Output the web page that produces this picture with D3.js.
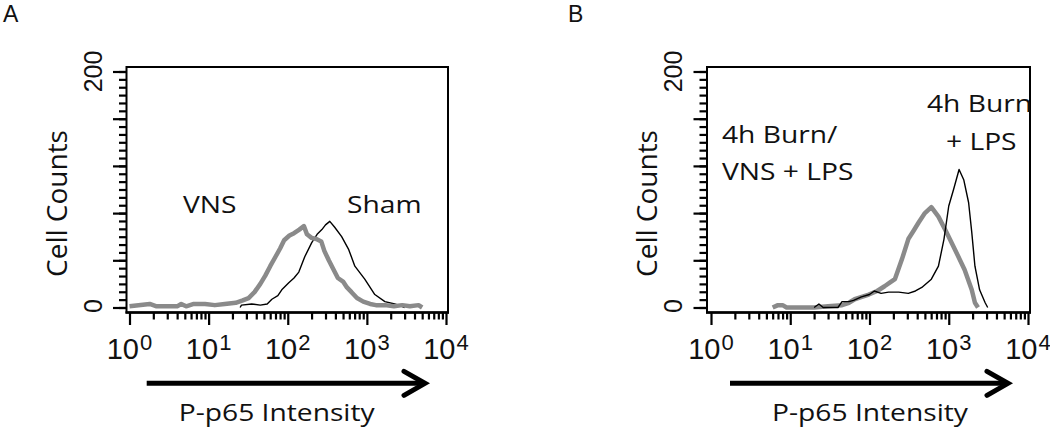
<!DOCTYPE html>
<html><head><meta charset="utf-8">
<script src="https://cdn.jsdelivr.net/npm/d3@7"></script>
<style>body{margin:0;background:#fff}svg{display:block}</style>
</head><body>
<svg id="c" width="1050" height="432"></svg>
<script>
// ---------------- data ----------------
const decades = [1, 10, 100, 1000, 10000];
const decadeExponents = ["0", "1", "2", "3", "4"];
const yLabelValues = [0, 200];
const yMajorTicks = [0, 40, 80, 120, 160, 200];

// Panel A – VNS (grey) and Sham (black)
const vnsIntensityA = [1, 1.8, 2.2, 4, 4.5, 5.2, 6.5, 9, 12, 16, 22, 27, 32, 38, 45, 52, 60, 70, 80, 90, 105, 120, 140, 160, 175, 200, 230, 265, 290, 330, 380, 430, 500, 560, 640, 750, 900, 1100, 1300, 1700, 2200, 2800, 3500, 4500, 5000];
const vnsCountsA    = [1, 3, 1, 1, 3, 1, 3, 3, 2, 3, 4, 6, 8, 13, 20, 27, 35, 43, 50, 57, 61, 63, 66, 69, 62, 59, 58, 56, 48, 40, 32, 25, 22, 17, 13, 8, 5, 3, 2, 2, 1, 2, 1, 2, 0];
const shamIntensityA = [25, 26, 35, 45, 55, 63, 75, 84, 103, 120, 138, 164, 201, 235, 270, 300, 340, 392, 480, 590, 705, 940, 1260, 1690, 2250, 2770, 3000];
const shamCountsA    = [0, 2, 3, 2, 3, 7, 10, 15, 21, 25, 30, 43, 55, 62, 66, 70, 73, 68, 60, 49, 35, 24, 11, 5, 3, 1, 0];

// Panel B – 4h Burn/VNS + LPS (grey) and 4h Burn + LPS (black)
const vnsIntensityB = [6, 7, 8, 9, 20, 30, 45, 55, 65, 80, 98, 125, 155, 180, 209, 257, 309, 360, 417, 500, 603, 741, 933, 1200, 1585, 1950, 2140, 2340];
const vnsCountsB    = [0, 2, 2, 0, 0, 1, 2, 4, 7, 9, 11, 14, 18, 21, 24, 41, 58, 65, 72, 80, 85, 77, 64, 49, 32, 15, 4, 0];
const burnIntensityB = [20, 23, 26, 40, 45, 55, 63, 79, 100, 115, 140, 174, 234, 309, 380, 457, 603, 741, 871, 1000, 1150, 1350, 1550, 1780, 1950, 2140, 2450, 2880, 3100];
const burnCountsB    = [0, 3, 0, 0, 5, 5, 6, 9, 11, 14, 12, 13, 13, 12, 14, 17, 24, 35, 58, 86, 100, 117, 108, 89, 64, 35, 15, 4, 0];

const panelLetters = ["A", "B"];
const xAxisTitle = "P-p65 Intensity";
const yAxisTitle = "Cell Counts";
const labelsA = [["VNS"], ["Sham"]];
const labelsB = [["4h Burn/", "VNS + LPS"], ["4h Burn", "+ LPS"]];

// ---------------- drawing ----------------
const svg = d3.select("#c");
const GREY = "#8a8a8a", BLACK = "#000";
const LABEL_FONT = "'Open Sans', 'DejaVu Sans', sans-serif";
const NUM_FONT = "'Liberation Sans', Arial, sans-serif";
const TXT = "#111";

function stext(str, x, y, fs, sx, anchor) {
  return svg.append("text")
    .attr("transform", `translate(${x},${y}) scale(${sx},1)`)
    .attr("font-family", LABEL_FONT).attr("font-size", fs)
    .attr("text-anchor", anchor || "start").attr("fill", TXT).text(str);
}

function styleAxis(sel) {
  sel.select(".domain").remove();
  sel.selectAll(".tick text").remove();
  sel.selectAll(".tick line").attr("stroke", BLACK).attr("stroke-width", 2.2);
}

function panel(cfg) {
  const x = d3.scaleLog().domain([1, 10000]).range(cfg.xr);
  const y = d3.scaleLinear().domain([0, 200]).range([307.5, 71.5]);

  // series
  const lineGen = d3.line().x(d => x(d[0])).y(d => y(d[1]));
  cfg.series.forEach(s => {
    svg.append("path").datum(d3.zip(s.x, s.y))
      .attr("d", lineGen).attr("fill", "none")
      .attr("stroke", s.color).attr("stroke-width", s.width)
      .attr("stroke-linejoin", "round");
  });

  // box
  svg.append("rect").attr("x", cfg.boxL).attr("y", 67)
    .attr("width", cfg.boxR - cfg.boxL).attr("height", 312.5 - 67)
    .attr("fill", "none").attr("stroke", BLACK).attr("stroke-width", 2);

  // y axis ticks (minor + major)
  const yMinor = d3.range(0, 200.01, 40 / 6);
  svg.append("g").attr("transform", `translate(${cfg.boxL},0)`)
    .call(d3.axisLeft(y).tickValues(yMinor).tickSize(7.5).tickFormat(""))
    .call(styleAxis);
  svg.append("g").attr("transform", `translate(${cfg.boxL},0)`)
    .call(d3.axisLeft(y).tickValues(yMajorTicks).tickSize(13.5).tickFormat(""))
    .call(styleAxis);

  yLabelValues.forEach(v => {
    svg.append("text").attr("transform", `translate(${cfg.boxL - 25},${y(v) - (v === 0 ? 1.5 : 0)}) rotate(-90)`)
      .attr("font-family", NUM_FONT).attr("font-size", 25)
      .attr("text-anchor", "middle").attr("fill", TXT).text(v);
  });

  // x axis ticks (minor + major)
  const xMinor = [];
  decades.slice(0, 4).forEach(d => { for (let k = 2; k <= 9; k++) xMinor.push(d * k); });
  svg.append("g").attr("transform", "translate(0,312.5)")
    .call(d3.axisBottom(x).tickValues(xMinor).tickSize(7).tickFormat(""))
    .call(styleAxis);
  svg.append("g").attr("transform", "translate(0,312.5)")
    .call(d3.axisBottom(x).tickValues(decades).tickSize(12.5).tickFormat(""))
    .call(styleAxis);
  svg.append("line").attr("x1", cfg.boxL - 1).attr("x2", cfg.boxR + 1)
    .attr("y1", 312.5).attr("y2", 312.5)
    .attr("stroke", BLACK).attr("stroke-width", 2.5);

  decades.forEach((d, i) => {
    const t = svg.append("text").attr("x", x(d)).attr("y", 358.5)
      .attr("font-family", NUM_FONT).attr("font-size", 29)
      .attr("text-anchor", "middle").attr("fill", TXT);
    t.append("tspan").text("10");
    t.append("tspan").attr("font-size", 22).attr("dy", -9).attr("dx", 1).text(decadeExponents[i]);
  });

  // arrow
  const ay = 383.3;
  svg.append("line").attr("x1", cfg.arrow[0]).attr("x2", cfg.arrow[1] - 3)
    .attr("y1", ay).attr("y2", ay).attr("stroke", BLACK).attr("stroke-width", 5);
  svg.append("path")
    .attr("d", `M${cfg.arrow[1] - 21},${ay - 12}L${cfg.arrow[1]},${ay}L${cfg.arrow[1] - 21},${ay + 12}`)
    .attr("fill", "none").attr("stroke", BLACK).attr("stroke-width", 5)
    .attr("stroke-linejoin", "miter").attr("stroke-linecap", "round");

  // axis titles
  stext(xAxisTitle, cfg.titleX, 420.5, 23.5, 1.2, "middle");
  svg.append("text").attr("transform", `translate(${cfg.cellX},203.5) rotate(-90)`)
    .attr("font-family", LABEL_FONT).attr("font-size", 28)
    .attr("text-anchor", "middle").attr("fill", TXT).text(yAxisTitle);

  // panel letter
  svg.append("text").attr("x", cfg.letterX).attr("y", 22)
    .attr("font-family", NUM_FONT).attr("font-size", 23).attr("fill", TXT).text(cfg.letter);

  // annotations
  cfg.annots.forEach(a => {
    a.lines.forEach((s, i) => stext(s, a.x[i], a.y[i], 23.5, 1.2, "start"));
  });
}

panel({
  letter: panelLetters[0], letterX: 3,
  boxL: 126.5, boxR: 448, xr: [129.5, 446],
  arrow: [146.7, 425], titleX: 276.7, cellX: 67,
  series: [
    { x: shamIntensityA, y: shamCountsA, color: BLACK, width: 1.4 },
    { x: vnsIntensityA, y: vnsCountsA, color: GREY, width: 4.5 }
  ],
  annots: [
    { lines: labelsA[0], x: [183], y: [213] },
    { lines: labelsA[1], x: [347], y: [213] }
  ]
});

panel({
  letter: panelLetters[1], letterX: 568,
  boxL: 707, boxR: 1030, xr: [711, 1028],
  arrow: [730, 1008], titleX: 870, cellX: 657,
  series: [
    { x: vnsIntensityB, y: vnsCountsB, color: GREY, width: 4.5 },
    { x: burnIntensityB, y: burnCountsB, color: BLACK, width: 1.4 }
  ],
  annots: [
    { lines: labelsB[0], x: [722, 722], y: [143, 180] },
    { lines: labelsB[1], x: [927, 946], y: [112, 150] }
  ]
});
</script>
</body></html>
